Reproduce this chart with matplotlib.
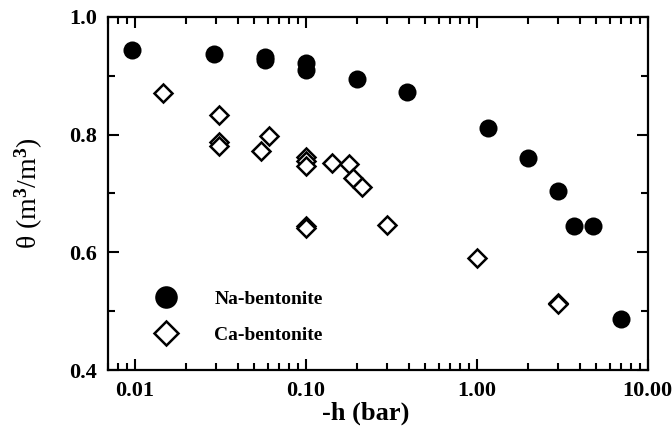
import matplotlib.pyplot as plt
from matplotlib.ticker import FixedLocator, LogLocator, NullFormatter, FormatStrFormatter

# Fuentes tipo Times en negrita
plt.rcParams['font.family'] = 'Liberation Serif'
plt.rcParams['font.weight'] = 'bold'
plt.rcParams['mathtext.fontset'] = 'custom'
plt.rcParams['mathtext.rm'] = 'Liberation Serif:weight=bold'
plt.rcParams['mathtext.it'] = 'Liberation Serif:weight=normal:style=normal'
plt.rcParams['mathtext.default'] = 'rm'

# Na-bentonite (circulos llenos)
h_na = [0.0096, 0.029, 0.058, 0.058, 0.1, 0.1, 0.2, 0.39, 1.17, 2.0, 3.0, 3.7, 4.8, 7.0]
theta_na = [0.944, 0.937, 0.932, 0.926, 0.922, 0.910, 0.895, 0.872, 0.811, 0.760, 0.704, 0.645, 0.645, 0.486]

# Ca-bentonite (rombos vacios)
h_ca = [0.0146, 0.031, 0.031, 0.031, 0.061, 0.055, 0.1, 0.1, 0.1, 0.142, 0.178, 0.188, 0.212,
        0.1, 0.1, 0.298, 1.0, 3.0, 3.0]
theta_ca = [0.871, 0.833, 0.787, 0.780, 0.798, 0.772, 0.762, 0.755, 0.746, 0.752, 0.750, 0.726, 0.711,
            0.644, 0.642, 0.646, 0.590, 0.514, 0.512]

fig = plt.figure(figsize=(6.72, 4.32), dpi=100)
ax = fig.add_axes([0.161, 0.1435, 0.803, 0.8175])

ax.plot(h_na, theta_na, 'o', color='black', markersize=13, markeredgewidth=0,
        linestyle='none', label='Na-bentonite')
ax.plot(h_ca, theta_ca, 'D', markerfacecolor='white', markeredgecolor='black',
        markersize=9.5, markeredgewidth=1.8, linestyle='none', label='Ca-bentonite')

ax.set_xscale('log')
ax.set_xlim(0.007, 10)
ax.set_ylim(0.4, 1.0)

ax.xaxis.set_major_locator(FixedLocator([0.01, 0.1, 1, 10]))
ax.xaxis.set_major_formatter(FormatStrFormatter('%.2f'))
ax.xaxis.set_minor_locator(LogLocator(base=10, subs=range(2, 10)))
ax.xaxis.set_minor_formatter(NullFormatter())
ax.yaxis.set_major_locator(FixedLocator([0.4, 0.6, 0.8, 1.0]))
ax.yaxis.set_major_formatter(FormatStrFormatter('%.1f'))
ax.yaxis.set_minor_locator(FixedLocator([0.5, 0.7, 0.9]))

ax.tick_params(which='both', direction='in', top=True, right=True, width=1.5,
               labelsize=16)
ax.tick_params(which='major', length=8, pad=8)
ax.tick_params(which='minor', length=5)
for s in ax.spines.values():
    s.set_linewidth(1.6)

ax.set_xlabel('-h (bar)', fontsize=19, fontweight='bold')
ax.xaxis.set_label_coords(0.478, -0.088)
ax.set_ylabel(r'$\mathit{\theta}$ (m$^3$/m$^3$)', fontsize=20)
ax.yaxis.set_label_coords(-0.118, 0.5)

ax.legend(loc='upper left', bbox_to_anchor=(0.056, 0.275), frameon=False,
          fontsize=14, markerscale=1.25, handlelength=1.0, handletextpad=2.0,
          labelspacing=0.95)

fig.savefig('out.png', dpi=100)
